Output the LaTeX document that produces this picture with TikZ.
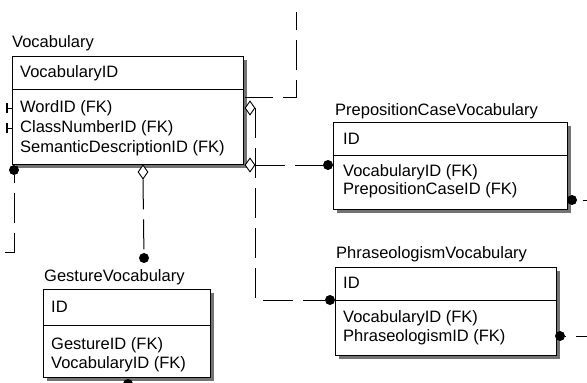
\documentclass[tikz,border=0pt]{standalone}
\usepackage{fontspec}
\setmainfont{Liberation Sans}
\usetikzlibrary{shapes.geometric}
\begin{document}
\begin{tikzpicture}[x=1pt,y=-1pt,
  every node/.style={font=\fontsize{16.5}{19}\selectfont, inner sep=0pt},
  tbl/.style={draw, fill=white, line width=1pt, anchor=north west},
  shd/.style={fill=black!55},
  lbl/.style={anchor=west},
  fk/.style={circle, fill=black, minimum size=10pt},
  opt/.style={diamond, draw, fill=white, line width=0.9pt, minimum width=10pt, minimum height=14pt},
  rel/.style={line width=1pt, dash pattern=on 30pt off 10pt},
  sep/.style={line width=1pt}]
\useasboundingbox (0,0) rectangle (587,383);

% ---------------- Vocabulary
\fill[shd] (16,60) rectangle (247,168);
\node[tbl, minimum width=231pt, minimum height=108pt] (V) at (12,56) {};
\draw[sep] (12,89) -- (243,89);
\node[lbl] (Vt) at (12,43) {Vocabulary};
\node[lbl] (V0) at (20,73) {VocabularyID};
\node[lbl] (V1) at (20,108) {WordID (FK)};
\node[lbl] (V2) at (20,128) {ClassNumberID (FK)};
\node[lbl] (V3) at (20,148) {SemanticDescriptionID (FK)};

% ---------------- PrepositionCaseVocabulary
\fill[shd] (337,126) rectangle (571,213);
\node[tbl, minimum width=234pt, minimum height=87pt] (Q) at (333,122) {};
\draw[sep] (333,155) -- (567,155);
\node[lbl] (Qt) at (335,111) {PrepositionCaseVocabulary};
\node[lbl] (Q0) at (343,139) {ID};
\node[lbl] (Q1) at (343,172) {VocabularyID (FK)};
\node[lbl] (Q2) at (343,190) {PrepositionCaseID (FK)};

% ---------------- PhraseologismVocabulary
\fill[shd] (339,271) rectangle (560,359);
\node[tbl, minimum width=221pt, minimum height=88pt] (P) at (335,267) {};
\draw[sep] (335,300) -- (556,300);
\node[lbl] (Pt) at (336,254) {PhraseologismVocabulary};
\node[lbl] (P0) at (343,283) {ID};
\node[lbl] (P1) at (343,318) {VocabularyID (FK)};
\node[lbl] (P2) at (343,337) {PhraseologismID (FK)};

% ---------------- GestureVocabulary
\fill[shd] (47,293) rectangle (214,381);
\node[tbl, minimum width=167pt, minimum height=88pt] (G) at (43,289) {};
\draw[sep] (43,325) -- (210,325);
\node[lbl] (Gt) at (44,277) {GestureVocabulary};
\node[lbl] (G0) at (51,307) {ID};
\node[lbl] (G1) at (51,345) {GestureID (FK)};
\node[lbl] (G2) at (51,364) {VocabularyID (FK)};

% ---------------- relationship ends
\node[opt] (dmT) at (250,108) {};
\node[opt] (dmR) at (250,165) {};
\node[opt] (dmB) at (143,172) {};
\node[fk] (dQ) at (328,165) {};
\node[fk] (dP) at (330,300) {};
\node[fk] (dG) at (144,258) {};
\node[fk] (dL) at (14,170) {};
\node[fk] (dQr) at (572,200) {};
\node[fk] (dPr) at (560,336) {};
\node[fk] (dGb) at (128,384) {};

\coordinate (lEnd) at (5,252);
\coordinate (tEnd) at (296,12);
\coordinate (vHook) at (245,97);
\coordinate (qEnd) at (587,200);
\coordinate (pEnd) at (587,336);

% ---------------- connectors
\draw[rel] (dmT.east) |- (dP);
\draw[rel] (dmR.east) -- (dQ);
\draw[rel] (dmB.south) -- (dG);
\draw[rel, dash phase=22pt] (dL) |- (lEnd);
\draw[rel, dash phase=12pt] (tEnd) |- (vHook);
\draw[rel, dash pattern=on 0pt off 6pt on 20pt] (dQr) -- (qEnd);
\draw[rel, dash pattern=on 1pt off 10pt on 20pt] (dPr) -- (pEnd);

% small relationship stubs on the left of Vocabulary
\draw[line width=2.5pt] (7,103) -- (7,113);
\draw[line width=1pt] (7,108) -- (12,108);
\draw[line width=2.5pt] (7,123) -- (7,133);
\draw[line width=1pt] (7,128) -- (12,128);
\end{tikzpicture}
\end{document}
